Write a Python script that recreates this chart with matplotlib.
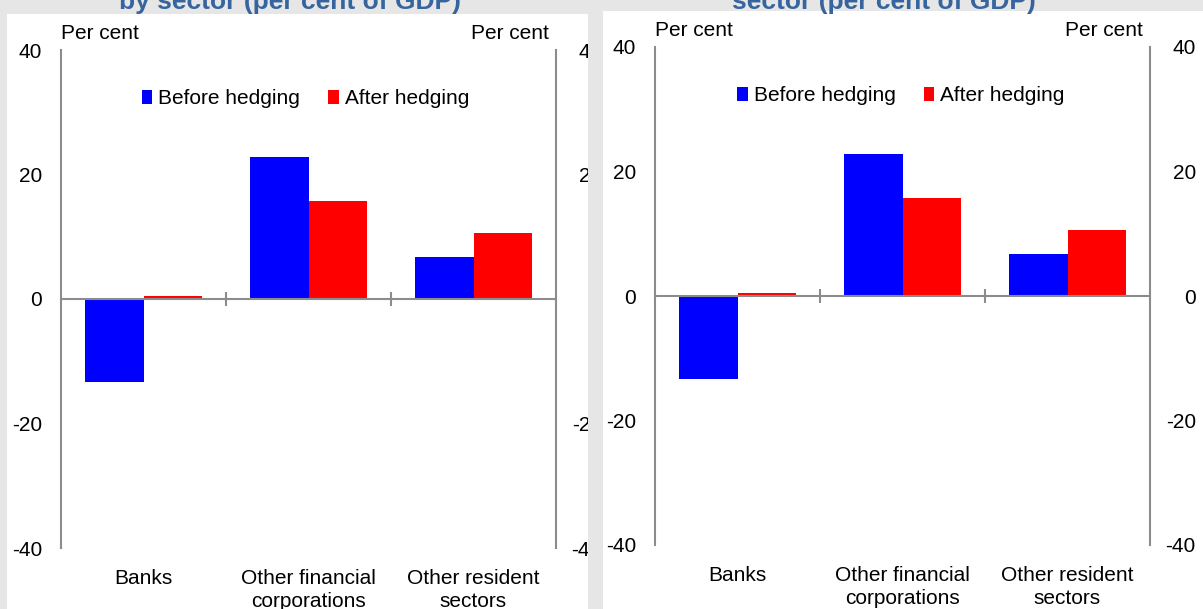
import matplotlib
matplotlib.use('Agg')
import matplotlib.pyplot as plt
from matplotlib.patches import Rectangle
from matplotlib.transforms import blended_transform_factory

# values (per cent of GDP)
categories = ["Banks", "Other financial\ncorporations", "Other resident\nsectors"]
before_hedging = [-13.3, 22.8, 6.8]
after_hedging = [0.5, 15.7, 10.6]
y_ticks = [-40, -20, 0, 20, 40]
titles = ["by sector (per cent of GDP)", "sector (per cent of GDP)"]

W, H = 1203, 609
BG = '#e6e6e6'
AXC = '#8c8c8c'
TITLE_C = '#35649f'

plt.rcParams['font.family'] = ['Liberation Sans', 'DejaVu Sans']
plt.rcParams['font.size'] = 15
plt.rcParams['axes.unicode_minus'] = False


def box(x0, y0, x1, y1):
	return [x0 / W, 1 - y1 / H, (x1 - x0) / W, (y1 - y0) / H]


def draw_panel(fig, plot_px, white_px, title, title_x, leg_x):
	x0, y0, x1, y1 = white_px
	fig.patches.append(Rectangle((x0 / W, 1 - y1 / H), (x1 - x0) / W, (y1 - y0) / H,
		transform=fig.transFigure, facecolor='white', edgecolor='none', zorder=-1))
	fig.text(title_x / W, 1 - 8.5 / H, title, ha='center', va='baseline',
		weight='bold', color=TITLE_C, size=19)

	ax = fig.add_axes(box(*plot_px))
	ax.set_facecolor('white')
	w = 0.355
	xs = range(len(categories))
	ax.bar([x - w / 2 for x in xs], before_hedging, w, color='#0000ff', label='Before hedging')
	ax.bar([x + w / 2 for x in xs], after_hedging, w, color='#ff0000', label='After hedging')
	ax.set_xlim(-0.5, len(categories) - 0.5)
	ax.set_ylim(-40, 40)

	for s in ['left', 'right', 'bottom']:
		ax.spines[s].set_color(AXC)
		ax.spines[s].set_linewidth(1.5)
	ax.spines['top'].set_visible(False)
	ax.spines['bottom'].set_position(('data', 0))

	ax.set_xticks([x + 0.5 for x in xs][:-1])
	ax.tick_params(axis='x', direction='inout', length=10, width=1.5, color=AXC, labelbottom=False)
	ax.set_yticks(y_ticks)
	ax.tick_params(axis='y', length=0, pad=13.5)

	ax2 = ax.twinx()
	ax2.set_ylim(-40, 40)
	ax2.set_yticks(y_ticks)
	ax2.tick_params(axis='y', length=0, pad=33)
	plt.setp(ax2.get_yticklabels(), ha='right')
	for s in ax2.spines.values():
		s.set_visible(False)

	trans = blended_transform_factory(ax.transData, ax.transAxes)
	for x, name in zip(xs, categories):
		ax.text(x, -0.043, name, transform=trans, ha='center', va='top', linespacing=1.25)

	ax.text(0.0, 1.022, 'Per cent', transform=ax.transAxes, ha='left', va='baseline')
	ax.text(0.986, 1.022, 'Per cent', transform=ax.transAxes, ha='right', va='baseline')

	ax.legend(ncol=2, loc='center', bbox_to_anchor=(leg_x, 0.902), frameon=False,
		handlelength=0.5, handleheight=0.6, handletextpad=0.3, columnspacing=1.35,
		borderaxespad=0, borderpad=0)
	return ax


def main():
	fig = plt.figure(figsize=(W / 100, H / 100), dpi=100)
	fig.patch.set_facecolor(BG)

	draw_panel(fig, (61, 50, 556, 548), (7, 14, 588, 609), titles[0], 290, 0.494)
	draw_panel(fig, (655, 47, 1150, 545), (603, 11, 1203, 609), titles[1], 884, 0.497)

	# grey gap between the two panels hides the clipped right-hand labels
	fig.patches.append(Rectangle((588 / W, 0), 15 / W, 1, transform=fig.transFigure,
		facecolor=BG, edgecolor='none', zorder=10))

	fig.savefig('out.png', dpi=100, facecolor=BG)


if __name__ == "__main__":
	main()
